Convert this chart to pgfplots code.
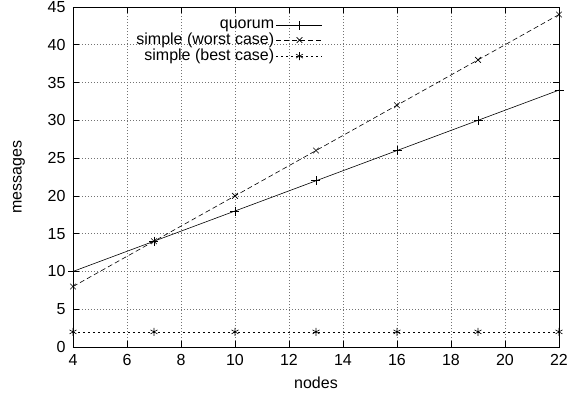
\documentclass[border=0pt]{standalone}
\usepackage{fontspec}
\setmainfont{Liberation Sans}
\usepackage{pgfplots}
\pgfplotsset{compat=1.18}
\begin{document}
\fontsize{16}{19}\selectfont
\begin{tikzpicture}
\useasboundingbox (-73pt,-50pt) rectangle (498pt,347pt);
\begin{axis}[
  at={(0pt,0pt)}, anchor=south west,
  scale only axis, width=486pt, height=340pt,
  xmin=4, xmax=22, ymin=0, ymax=45,
  xtick={4,6,...,22}, ytick={0,5,...,45},
  /pgf/number format/assume math mode=true,
  tick label style={font=\fontsize{16}{19}\selectfont},
  xticklabel style={yshift=-2pt},
  yticklabel style={xshift=-2pt},
  label style={font=\fontsize{16}{19}\selectfont},
  xlabel={nodes}, ylabel={messages},
  xlabel style={at={(axis description cs:0.5,-0.106)}, anchor=center},
  ylabel style={at={(axis description cs:-0.111,0.5)}, anchor=center},
  grid=major,
  major grid style={dash pattern=on 1pt off 2pt, black!55, line width=0.6pt},
  axis line style={line width=0.8pt},
  tick style={black, line width=0.6pt},
  major tick length=6pt,
  tick align=inside,
  legend plot pos=right,
  legend cell align=right,
  legend style={draw=none, fill=none, at={(0.5144,0.968)}, anchor=north east,
    font=\fontsize{16}{19}\selectfont, row sep=-2pt, inner sep=0pt,
    /tikz/every even column/.append style={column sep=10pt}},
  legend image code/.code={\draw[#1, mark repeat=2, mark phase=2] plot coordinates {(0pt,0pt) (23pt,0pt) (46pt,0pt)};},
]
\addplot[black, line width=0.6pt, mark=+, mark size=4.5pt, mark options={solid}] coordinates {
  (4,10) (7,14) (10,18) (13,22) (16,26) (19,30) (22,34)};
\addlegendentry{quorum}
\addplot[black, line width=0.6pt, dash pattern=on 5pt off 3pt, mark=x, mark size=4pt, mark options={solid}] coordinates {
  (4,8) (7,14) (10,20) (13,26) (16,32) (19,38) (22,44)};
\addlegendentry{simple (worst case)}
\addplot[black, line width=0.6pt, dash pattern=on 2pt off 3pt, mark=asterisk, mark size=4pt, mark options={solid}] coordinates {
  (4,2) (7,2) (10,2) (13,2) (16,2) (19,2) (22,2)};
\addlegendentry{simple (best case)}
\end{axis}
\end{tikzpicture}
\end{document}
